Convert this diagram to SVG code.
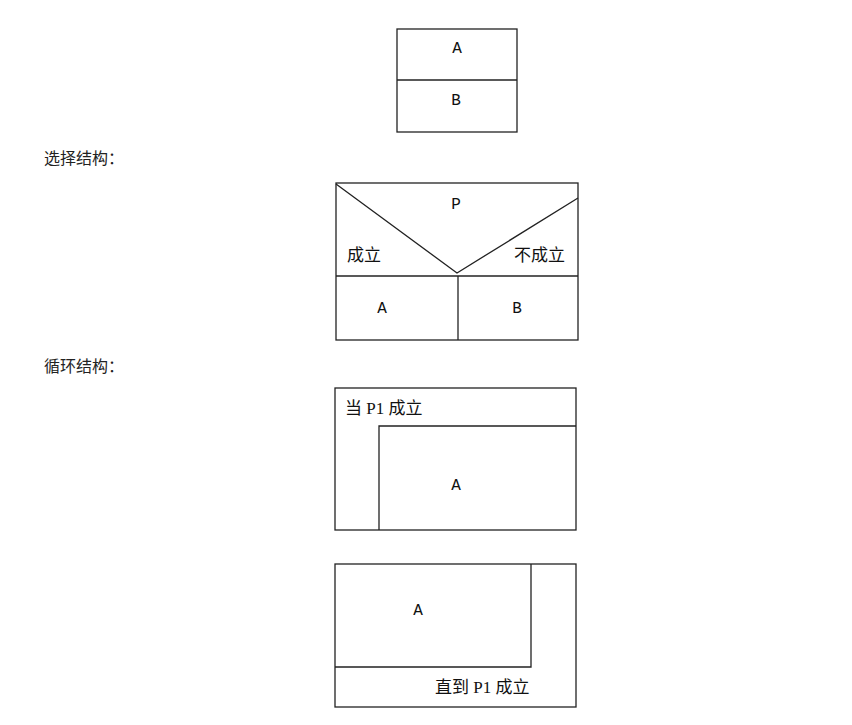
<svg xmlns="http://www.w3.org/2000/svg" width="852" height="725" viewBox="0 0 852 725">
<style>
.b{fill:none;stroke:#222;stroke-width:1.3}
.l{font-family:"Liberation Mono","Courier New",monospace;font-size:16px;fill:#111;text-anchor:middle}
.c{font-family:"Liberation Serif","Noto Sans CJK SC",serif;font-size:17px;fill:#111}
.h{font-family:"Liberation Serif","Noto Sans CJK SC",serif;font-size:16px;fill:#222}
</style>
<rect width="852" height="725" fill="#fff"/>
<g id="seq">
<rect class="b" x="397" y="29" width="120" height="103"/>
<line class="b" x1="397" y1="80" x2="517" y2="80"/>
<text class="l" x="457" y="53">A</text>
<text class="l" x="456" y="105">B</text>
</g>
<text class="h" x="44" y="164">选择结构：</text>
<g id="select">
<rect class="b" x="336" y="183" width="242" height="157"/>
<polyline class="b" points="336,184 457,273 578,198"/>
<line class="b" x1="336" y1="276" x2="578" y2="276"/>
<line class="b" x1="458" y1="276" x2="458" y2="340"/>
<text class="l" x="456" y="209">P</text>
<text class="c" x="347" y="261">成立</text>
<text class="c" x="514" y="261">不成立</text>
<text class="l" x="382" y="313">A</text>
<text class="l" x="517" y="313">B</text>
</g>
<text class="h" x="44" y="372">循环结构：</text>
<g id="while">
<rect class="b" x="335" y="388" width="241" height="142"/>
<polyline class="b" points="379,530 379,426 576,426"/>
<text class="c" x="345" y="414">当 P1 成立</text>
<text class="l" x="456" y="490">A</text>
</g>
<g id="until">
<rect class="b" x="335" y="564" width="241" height="143"/>
<polyline class="b" points="335,667 531,667 531,564"/>
<text class="l" x="418" y="615">A</text>
<text class="c" x="435" y="693">直到 P1 成立</text>
</g>
</svg>
